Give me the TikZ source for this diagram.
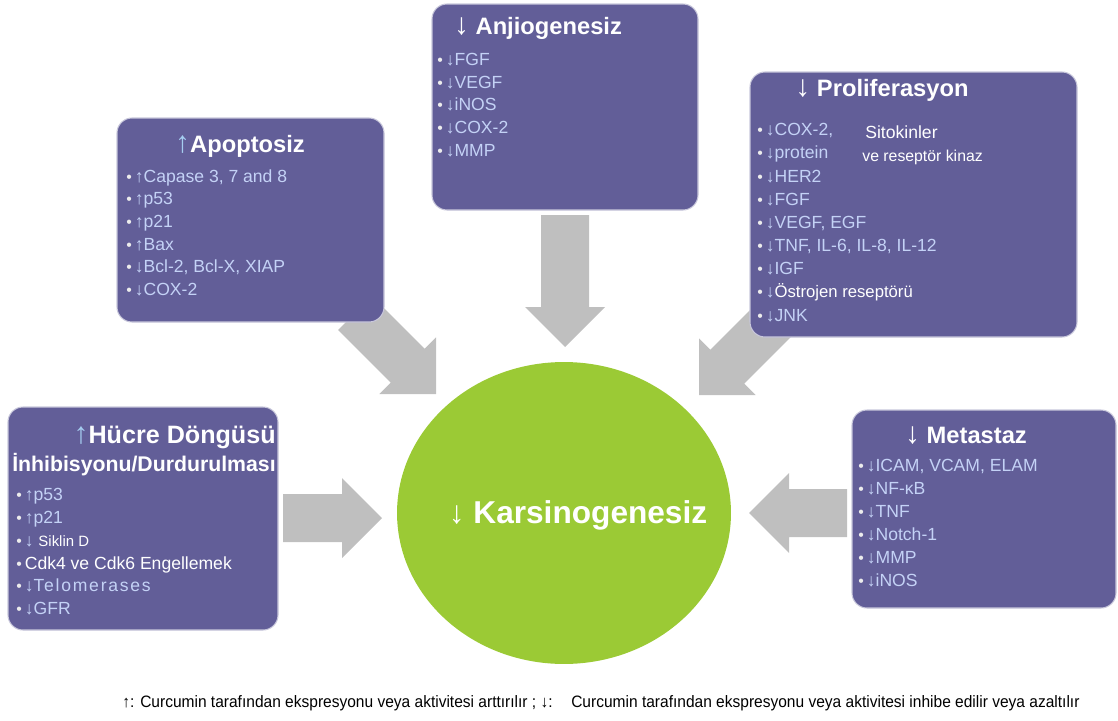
\documentclass[tikz,border=0pt]{standalone}
\usepackage{fontspec}
\setmainfont{Liberation Sans}
\usetikzlibrary{calc,fit,shapes.geometric}

\definecolor{kutu}{RGB}{98,94,152}
\definecolor{madde}{RGB}{196,210,246}
\definecolor{okmavi}{RGB}{165,205,240}
\definecolor{yesil}{RGB}{155,202,53}
\definecolor{okgri}{RGB}{191,191,191}

\newcommand{\mad}{{\color{white!85!gray}\small•}\,}
\newcommand{\inceok}[1]{{\mdseries\fontsize{17}{17}\selectfont #1}}

% kalin gri ok: (baslangic) -> (uc)
\newcommand{\kalinok}[2]{%
  \coordinate (ht) at ($(#2)!0.8cm!(#1)$);
  \fill[okgri] ($(#1)!0.48cm!90:(#2)$) -- ($(ht)!0.48cm!-90:(#1)$)
    -- ($(ht)!0.8cm!-90:(#1)$) -- (#2) -- ($(ht)!0.8cm!90:(#1)$)
    -- ($(ht)!0.48cm!90:(#1)$) -- ($(#1)!0.48cm!-90:(#2)$) -- cycle;}

\begin{document}
\begin{tikzpicture}[x=0.02cm, y=-0.02cm,
    kutu/.style={draw=white!65!kutu, line width=0.6pt, fill=kutu, rounded corners=0.3cm, inner sep=0pt},
    baslik/.style={text=white, font=\bfseries\fontsize{13.5}{16}\selectfont, inner sep=0pt},
    liste/.style={text=madde, font=\fontsize{10}{12.9}\selectfont, align=left, anchor=north west, inner sep=0pt},
    beyaz/.style={text=white, font=\fontsize{10}{12}\selectfont, inner sep=0pt, anchor=west}]

  \useasboundingbox (0,0) rectangle (1118,720);

  % Oklar
  \coordinate (ok1a) at (565,215);  \coordinate (ok1b) at (565,347);
  \coordinate (ok2a) at (355,313);  \coordinate (ok2b) at (436,394);
  \coordinate (ok3a) at (780,314);  \coordinate (ok3b) at (699,395);
  \coordinate (ok4a) at (283,518);  \coordinate (ok4b) at (382,518);
  \coordinate (ok5a) at (847,513);  \coordinate (ok5b) at (749,513);
  \kalinok{ok1a}{ok1b}
  \kalinok{ok2a}{ok2b}
  \kalinok{ok3a}{ok3b}
  \kalinok{ok4a}{ok4b}
  \kalinok{ok5a}{ok5b}

  % Kutular
  \node[kutu, fit={(117,118) (384,322)}] (apoptoz) {};
  \node[kutu, fit={(432,4) (698,210)}] (anjio) {};
  \node[kutu, fit={(750,72) (1077,337)}] (prolif) {};
  \node[kutu, fit={(8,407) (278,630)}] (hucre) {};
  \node[kutu, fit={(852,410) (1116,608)}] (metastaz) {};

  % Merkez
  \node[ellipse, fill=yesil, minimum width=6.68cm, minimum height=6.04cm] (kars) at (564,513) {};
  \node[text=white, font=\bfseries\fontsize{18}{20}\selectfont, inner sep=0pt] (karsyazi) at (578,515)
    {{\mdseries ↓} Karsinogenesiz};

  % Basliklar
  \node[baslik] (apobaslik) at (240,146) {\textcolor{okmavi}{\inceok{↑}}Apoptosiz};
  \node[baslik] (anjbaslik) at (538,28) {\inceok{↓} Anjiogenesiz};
  \node[baslik] (probaslik) at (882,90) {\inceok{↓} Proliferasyon};
  \node[baslik, anchor=east, font=\bfseries\fontsize{14.3}{16}\selectfont] (hucbaslik) at (276,437)
    {\textcolor{okmavi}{\inceok{↑}}Hücre Döngüsü};
  \node[baslik, anchor=east, font=\bfseries\fontsize{12.1}{16}\selectfont] (hucbaslik2) at (276,465)
    {İnhibisyonu/Durdurulması};
  \node[baslik] (metbaslik) at (966,436) {\inceok{↓} Metastaz};

  % Listeler
  \node[liste] (apoliste) at (126,169) {\mad↑Capase 3, 7 and 8\\ \mad↑p53\\ \mad↑p21\\ \mad↑Bax\\
    \mad↓Bcl-2, Bcl-X, XIAP\\ \mad↓COX-2};
  \node[liste] (anjliste) at (437,53) {\mad↓FGF\\ \mad↓VEGF\\ \mad↓iNOS\\ \mad↓COX-2\\ \mad↓MMP};
  \node[liste, font=\fontsize{10}{13.2}\selectfont] (proliste) at (757,123) {\mad↓COX-2,\\ \mad↓protein\\
    \mad↓HER2\\ \mad↓FGF\\ \mad↓VEGF, EGF\\ \mad↓TNF, IL-6, IL-8, IL-12\\ \mad↓IGF\\
    \mad↓\textcolor{white}{\fontsize{9.5}{12}\selectfont Östrojen reseptörü}\\ \mad↓JNK};
  \node[beyaz] (sitokin) at (865,132) {Sitokinler};
  \node[beyaz, font=\fontsize{9}{11}\selectfont] (reseptor) at (862,157) {ve reseptör kinaz};
  \node[liste, font=\fontsize{10}{13}\selectfont] (hucliste) at (16,488) {\mad↑p53\\ \mad↑p21\\
    \mad↓ \textcolor{white}{\fontsize{8.5}{12}\selectfont Siklin D}\\
    \mad\textcolor{white}{Cdk4 ve Cdk6 Engellemek}\\
    \mad↓{\addfontfeatures{LetterSpace=10}Telomerases}\\ \mad↓GFR};
  \node[liste, font=\fontsize{10}{13.1}\selectfont] (metliste) at (858,459) {\mad↓ICAM, VCAM, ELAM\\
    \mad↓NF-κB\\ \mad↓TNF\\ \mad↓Notch-1\\ \mad↓MMP\\ \mad↓iNOS};

  % Aciklama
  \node[font=\fontsize{9.4}{11}\selectfont, inner sep=0pt] (aciklama) at (601,703)
    {\scalebox{0.94}[1]{↑: Curcumin tarafından ekspresyonu veya aktivitesi arttırılır ; ↓:\hspace{1.2em}Curcumin tarafından ekspresyonu veya aktivitesi inhibe edilir veya azaltılır}};

\end{tikzpicture}
\end{document}
